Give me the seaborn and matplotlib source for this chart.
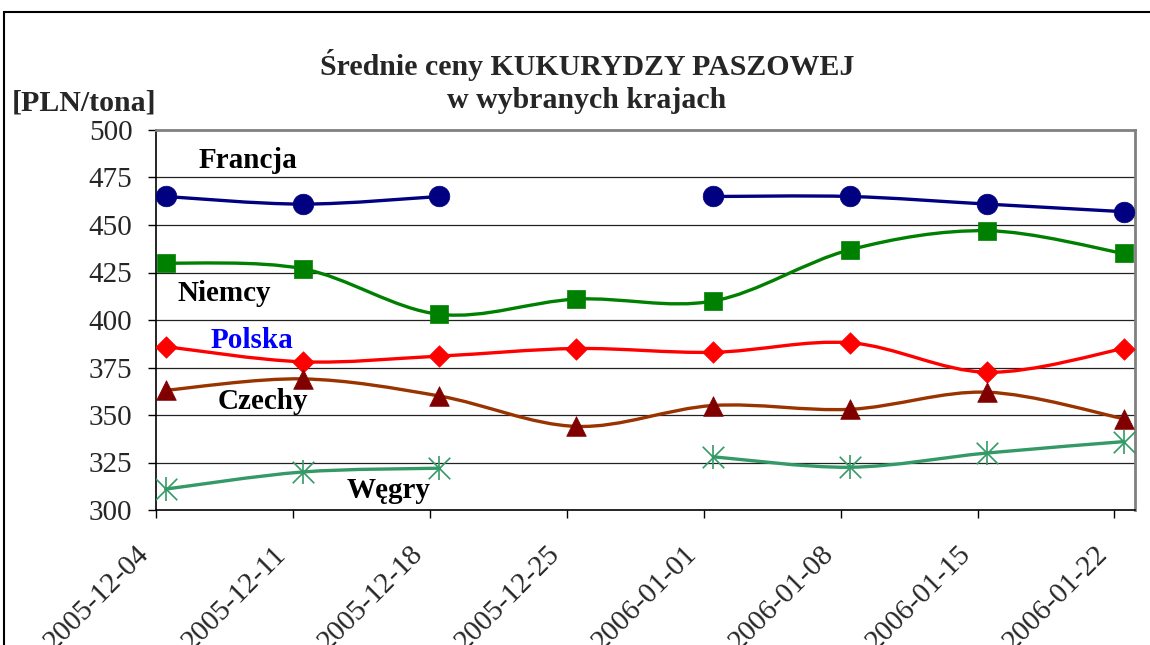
import numpy as np
import pandas as pd
import seaborn as sns
import matplotlib.pyplot as plt
import matplotlib.transforms as mtransforms
from matplotlib.path import Path
from matplotlib.patches import PathPatch, Rectangle

# data
dates = ['2005-12-04', '2005-12-11', '2005-12-18', '2005-12-25',
         '2006-01-01', '2006-01-08', '2006-01-15', '2006-01-22']
francja = [465, 461, 465, np.nan, 465, 465, 461, 457]
niemcy = [430, 427, 403, 411, 410, 437, 447, 435]
polska = [386, 378, 381, 385, 383, 388, 372.5, 385]
czechy = [363, 369, 360, 344, 355, 353, 362, 348]
wegry = [311, 320, 322, np.nan, 328, 322.5, 330, 336]

sns.set_theme(style="white")
plt.rcParams['font.family'] = ['Liberation Serif', 'DejaVu Serif']

SHIFT = 0.07  # points sit a little right of the week ticks, as in the original


def smoothPath(xs, ys):
    """Excel-like smoothed line: cubic bezier segments through the points."""
    pts = np.column_stack([xs, ys])
    verts = [pts[0]]
    codes = [Path.MOVETO]
    n = len(pts)
    for i in range(n - 1):
        p0 = pts[i - 1] if i > 0 else pts[i]
        p1 = pts[i]
        p2 = pts[i + 1]
        p3 = pts[i + 2] if i + 2 < n else pts[i + 1]
        verts += [p1 + (p2 - p0) / 6.0, p2 - (p3 - p1) / 6.0, p2]
        codes += [Path.CURVE4] * 3
    return Path(verts, codes)


def drawSmooth(ax, values, color, lw):
    x = np.arange(len(values)) + SHIFT
    y = np.array(values, dtype=float)
    ok = ~np.isnan(y)
    # split into runs without gaps
    runs, cur = [], []
    for xi, yi, good in zip(x, y, ok):
        if good:
            cur.append((xi, yi))
        elif cur:
            runs.append(cur)
            cur = []
    if cur:
        runs.append(cur)
    for r in runs:
        rx, ry = zip(*r)
        if len(r) > 1:
            ax.add_patch(PathPatch(smoothPath(rx, ry), fill=False, edgecolor=color,
                                   lw=lw, zorder=3, capstyle='round', joinstyle='round'))


fig = plt.figure(figsize=(11.5, 6.45), dpi=100)
ax = fig.add_axes([156 / 1150, 1 - 510 / 645, (1135 - 156) / 1150, (510 - 130) / 645])

df = pd.DataFrame({'x': np.arange(len(dates)) + SHIFT, 'Francja': francja, 'Niemcy': niemcy,
                   'Polska': polska, 'Czechy': czechy, 'Wegry': wegry})

series = [
    ('Francja', '#000080', '#000080', 'o', 220),
    ('Niemcy', '#008000', '#008000', 's', 170),
    ('Polska', '#FF0000', '#FF0000', 'D', 120),
    ('Czechy', '#993300', '#800000', '^', 200),
]
for name, lc, mc, mk, sz in series:
    drawSmooth(ax, df[name], lc, 2.4)
    sns.scatterplot(data=df, x='x', y=name, marker=mk, s=sz, color=mc,
                    edgecolor=mc, linewidth=0.5, zorder=4, ax=ax, legend=False)

drawSmooth(ax, df['Wegry'], '#339966', 2.4)
sns.scatterplot(data=df, x='x', y='Wegry', marker='x', s=240, color='#339966',
                linewidth=1.2, zorder=4, ax=ax, legend=False)
sns.scatterplot(data=df, x='x', y='Wegry', marker='|', s=320, color='#339966',
                linewidth=1.2, zorder=4, ax=ax, legend=False)

ax.set_xlim(0, 7.15)
ax.set_ylim(300, 500)
ax.set_yticks(np.arange(300, 501, 25))
ax.set_xticks(np.arange(len(dates)))
ax.set_xticklabels(dates, rotation=45, ha='right', va='top', rotation_mode='anchor')
ax.set_xlabel('')
ax.set_ylabel('')
for y in np.arange(325, 500, 25):
    ax.axhline(y, color='#222222', lw=0.9, zorder=1)

ax.tick_params(axis='y', direction='out', length=6, width=1, color='black',
               pad=11, labelsize=21, left=True)
ax.tick_params(axis='x', direction='out', length=6, width=1, color='black',
               pad=2, labelsize=21, bottom=True)
offset = mtransforms.ScaledTranslation(-20 / 100, -20 / 100, fig.dpi_scale_trans)
for lab in ax.get_xticklabels():
    lab.set_transform(lab.get_transform() + offset)

for side in ['left', 'bottom']:
    ax.spines[side].set_color('black')
    ax.spines[side].set_linewidth(1.2)
for side in ['top', 'right']:
    ax.spines[side].set_color('#808080')
    ax.spines[side].set_linewidth(2)

# series labels in the plot
labels = [('Francja', 0.67, 484, 'black'), ('Niemcy', 0.50, 414, 'black'),
          ('Polska', 0.70, 389, '#0000FF'), ('Czechy', 0.78, 357, 'black'),
          ('Węgry', 1.70, 310.5, 'black')]
for txt, lx, ly, col in labels:
    ax.text(lx, ly, txt, ha='center', va='center', fontsize=21,
            fontweight='bold', color=col, zorder=5)

fig.text(587 / 1150, 1 - 65 / 645, 'Średnie ceny KUKURYDZY PASZOWEJ', ha='center',
         va='center', fontsize=21.5, fontweight='bold')
fig.text(587 / 1150, 1 - 100 / 645, 'w wybranych krajach', ha='center',
         va='center', fontsize=21.5, fontweight='bold')
fig.text(12 / 1150, 1 - 103 / 645, '[PLN/tona]', ha='left', va='center',
         fontsize=21.5, fontweight='bold')

# outer chart-area border (only left and top visible in the crop)
fig.patches.append(Rectangle((4 / 1150, -0.2), 1.5, 1.2 - 12 / 645, transform=fig.transFigure,
                             fill=False, edgecolor='black', lw=1.5, clip_on=False))

fig.savefig('out.png', dpi=100)
